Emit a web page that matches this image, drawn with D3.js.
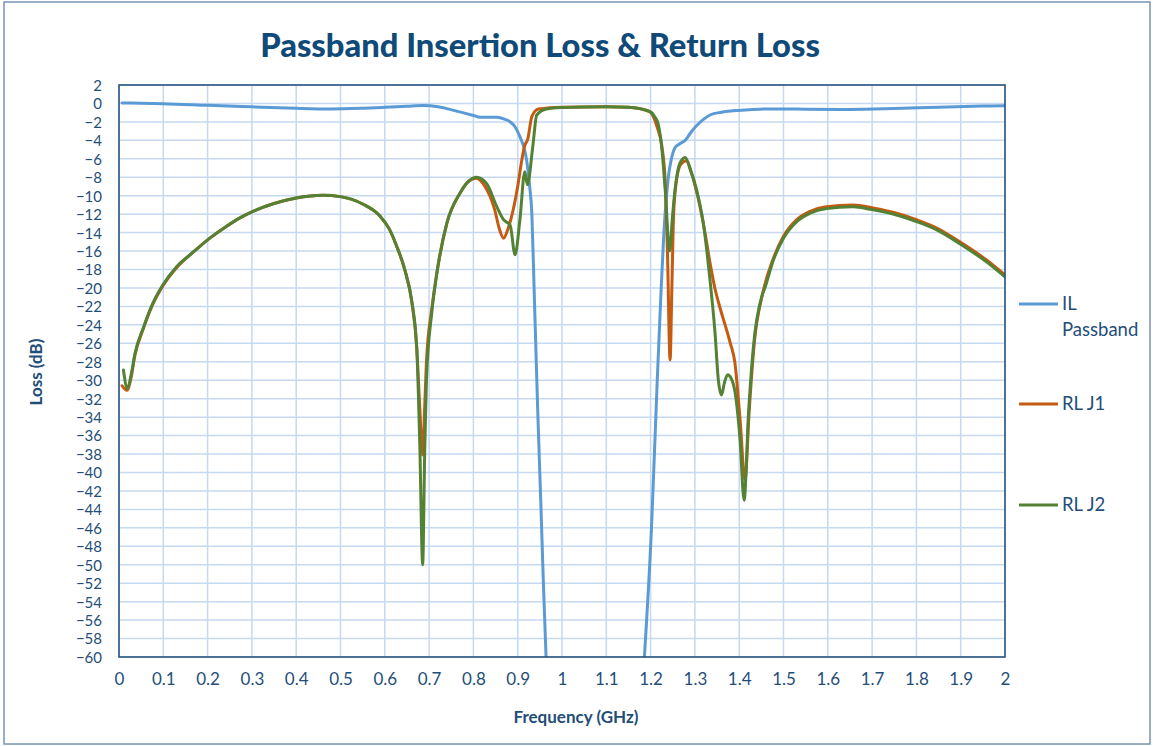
<!DOCTYPE html>
<html>
<head>
<meta charset="utf-8">
<script src="https://cdn.jsdelivr.net/npm/d3@7/dist/d3.min.js"></script>
<style>
  html, body { margin: 0; padding: 0; background: #ffffff; }
  svg { display: block; font-family: Lato, "Open Sans", sans-serif; }
</style>
</head>
<body>
<svg id="chart" width="1153" height="746"></svg>
<script>
// ---------------- DATA ----------------
const seriesNames = ["IL\nPassband", "RL J1", "RL J2"];
const xTicks = [0, 0.1, 0.2, 0.3, 0.4, 0.5, 0.6, 0.7, 0.8, 0.9, 1, 1.1, 1.2, 1.3, 1.4, 1.5, 1.6, 1.7, 1.8, 1.9, 2];
const yTicks = d3.range(2, -61, -2);

// IL Passband (null = below -60 dB, off chart)
const ilFreq = [0.007, 0.05, 0.1, 0.2, 0.3, 0.4, 0.48, 0.55, 0.6, 0.65, 0.687, 0.72, 0.76, 0.8, 0.815, 0.853, 0.87, 0.883, 0.895, 0.905, 0.913, 0.92, 0.927, 0.932, 0.937, 0.945, 0.952, 0.958, 0.964,
  1.07,
  1.186, 1.202, 1.215, 1.223, 1.23, 1.236, 1.24, 1.247, 1.255, 1.265, 1.278, 1.29, 1.304, 1.32, 1.334, 1.36, 1.386, 1.43, 1.46, 1.55, 1.65, 1.75, 1.85, 1.95, 2.0];
const ilLoss = [0.05, 0.02, -0.02, -0.2, -0.37, -0.53, -0.6, -0.52, -0.42, -0.3, -0.22, -0.35, -0.8, -1.3, -1.5, -1.5, -1.7, -2.0, -2.6, -3.6, -4.6, -6.1, -9, -12, -20, -33, -43, -52, -60,
  null,
  -60, -46, -30, -21, -14, -10, -8, -6, -4.8, -4.4, -4.0, -3.2, -2.4, -1.7, -1.25, -0.95, -0.8, -0.65, -0.6, -0.62, -0.65, -0.55, -0.4, -0.28, -0.25];

// RL J1
const rl1Freq = [0.007, 0.018, 0.027, 0.036, 0.055, 0.077, 0.1, 0.13, 0.168, 0.205, 0.243, 0.273, 0.3, 0.35, 0.4, 0.46, 0.5, 0.55, 0.589, 0.61, 0.627, 0.645, 0.661, 0.672, 0.679, 0.685, 0.69, 0.694, 0.706, 0.717, 0.74, 0.77, 0.79, 0.807, 0.825, 0.837, 0.848, 0.858, 0.868, 0.878, 0.89, 0.9, 0.908, 0.915, 0.923, 0.932, 0.947, 1.0, 1.1, 1.15, 1.195, 1.207, 1.215, 1.225, 1.233, 1.238, 1.244, 1.248, 1.252, 1.258, 1.268, 1.281, 1.292, 1.304, 1.319, 1.335, 1.345, 1.357, 1.37, 1.38, 1.39, 1.402, 1.413, 1.423, 1.434, 1.453, 1.477, 1.5, 1.53, 1.56, 1.597, 1.657, 1.699, 1.763, 1.8, 1.846, 1.898, 1.959, 2.0];
const rl1Loss = [-30.6, -31.1, -29.8, -27.3, -24.4, -21.7, -19.7, -17.8, -16.1, -14.6, -13.3, -12.4, -11.75, -10.85, -10.25, -9.95, -10.1, -10.9, -12.2, -13.6, -15.5, -18, -21.5, -26.4, -33, -38.1, -33, -28, -22.3, -18.5, -13, -9.7, -8.4, -8.1, -8.9, -10.0, -11.5, -13.5, -14.6, -13.6, -11.5, -9, -6.5, -4.7, -3.8, -1.4, -0.6, -0.4, -0.35, -0.4, -0.8, -1.5, -2.6, -4.5, -8.5, -16, -27.8, -20, -12, -8.5, -6.6, -6.2, -7.5, -9.6, -13.0, -17.5, -20.0, -22.2, -24.3, -26.0, -28.0, -34.3, -40.8, -33, -26, -20.6, -16.8, -14.4, -12.6, -11.7, -11.2, -11.0, -11.3, -12.0, -12.6, -13.5, -15.0, -17.0, -18.6];

// RL J2
const rl2Freq = [0.01, 0.019, 0.027, 0.036, 0.055, 0.077, 0.1, 0.13, 0.168, 0.205, 0.243, 0.273, 0.3, 0.35, 0.4, 0.46, 0.5, 0.55, 0.589, 0.61, 0.627, 0.645, 0.661, 0.672, 0.679, 0.6855, 0.69, 0.694, 0.706, 0.717, 0.74, 0.77, 0.79, 0.807, 0.83, 0.853, 0.868, 0.883, 0.894, 0.905, 0.916, 0.922, 0.934, 0.943, 0.965, 1.0, 1.1, 1.15, 1.199, 1.21, 1.217, 1.225, 1.233, 1.243, 1.249, 1.255, 1.266, 1.278, 1.29, 1.304, 1.319, 1.334, 1.345, 1.353, 1.36, 1.367, 1.374, 1.382, 1.39, 1.402, 1.411, 1.421, 1.432, 1.451, 1.458, 1.477, 1.5, 1.53, 1.56, 1.597, 1.657, 1.699, 1.763, 1.8, 1.846, 1.898, 1.959, 2.0];
const rl2Loss = [-28.9, -30.9, -29.5, -27.1, -24.3, -21.6, -19.6, -17.7, -16.1, -14.6, -13.3, -12.4, -11.75, -10.85, -10.25, -9.95, -10.1, -10.9, -12.2, -13.6, -15.5, -18, -21.5, -26.4, -37, -50, -38, -30, -22.7, -18.6, -13, -9.7, -8.4, -8.0, -8.7, -11.2, -12.6, -13.2, -16.4, -12.6, -7.4, -8.8, -4.7, -1.25, -0.6, -0.45, -0.35, -0.4, -0.9, -1.5, -2.2, -4.7, -9.4, -16, -12.5, -9.4, -6.5, -5.85, -7.2, -9.4, -13, -19.1, -24.6, -30, -31.6, -30.2, -29.4, -29.8, -31.1, -36.5, -43, -33.6, -26.4, -20.9, -20, -17, -14.6, -12.8, -11.9, -11.4, -11.2, -11.5, -12.2, -12.8, -13.7, -15.2, -17.2, -18.8];

const colors = ["#5b9bd5", "#c55a11", "#548235"];

// ---------------- LAYOUT ----------------
const svg = d3.select("#chart");
const plot = { left: 119, top: 85, right: 1005, bottom: 657 };
const textColor = "#1f4e79";

svg.append("rect").attr("x", 4).attr("y", 2).attr("width", 1146).attr("height", 742)
  .attr("fill", "#fff").attr("stroke", "#7894b3").attr("stroke-width", 1.5);

const x = d3.scaleLinear().domain([0, 2]).range([plot.left, plot.right]);
const y = d3.scaleLinear().domain([-60, 2]).range([plot.bottom, plot.top]);

// gridlines
const grid = svg.append("g").attr("stroke", "#c6d9f0").attr("stroke-width", 1.5);
grid.selectAll("line.h").data(yTicks).join("line")
  .attr("x1", plot.left).attr("x2", plot.right)
  .attr("y1", d => y(d)).attr("y2", d => y(d));
grid.selectAll("line.v").data(xTicks).join("line")
  .attr("y1", plot.top).attr("y2", plot.bottom)
  .attr("x1", d => x(d)).attr("x2", d => x(d));

// axes (labels only; no tick marks)
const yAxis = d3.axisLeft(y).tickValues(yTicks).tickSize(0).tickPadding(17).tickFormat(d3.format("d"));
const gy = svg.append("g").attr("transform", `translate(${plot.left},0)`).call(yAxis);
const xAxis = d3.axisBottom(x).tickValues(xTicks).tickSize(0).tickPadding(16).tickFormat(d => String(d));
const gx = svg.append("g").attr("transform", `translate(0,${plot.bottom})`).call(xAxis);
[gx, gy].forEach(g => {
  g.select(".domain").remove();
  g.selectAll("text").attr("fill", textColor).style("font-family", "Lato, sans-serif");
});
gx.selectAll("text").style("font-size", "17px").attr("dy", "0.71em");
gy.selectAll("text").style("font-size", "15px").attr("dy", "0.36em");

// clip
svg.append("clipPath").attr("id", "clip").append("rect")
  .attr("x", plot.left).attr("y", plot.top).attr("width", plot.right - plot.left).attr("height", plot.bottom - plot.top);

const line = d3.line()
  .defined(d => d[1] !== null)
  .x(d => x(d[0])).y(d => y(d[1]))
  .curve(d3.curveMonotoneX);

const series = [
  d3.zip(ilFreq, ilLoss),
  d3.zip(rl1Freq, rl1Loss),
  d3.zip(rl2Freq, rl2Loss)
];

const lines = svg.append("g").attr("clip-path", "url(#clip)");
series.forEach((s, i) => {
  lines.append("path").datum(s).attr("d", line)
    .attr("fill", "none").attr("stroke", colors[i]).attr("stroke-width", 3)
    .attr("stroke-linejoin", "round").attr("stroke-linecap", "round");
});

// plot border
svg.append("rect").attr("x", plot.left).attr("y", plot.top)
  .attr("width", plot.right - plot.left).attr("height", plot.bottom - plot.top)
  .attr("fill", "none").attr("stroke", "#1f4e79").attr("stroke-width", 1.5);

// title
const title = svg.append("text").attr("x", 540).attr("y", 57).attr("text-anchor", "middle")
  .attr("fill", "#0f4a78").style("font-weight", "900").style("font-size", "29px")
  .text("Passband Insertion Loss & Return Loss");
const tl = title.node().getComputedTextLength();
title.style("font-size", (29 * 560 / tl) + "px");

// axis titles
svg.append("text").attr("x", 576).attr("y", 723).attr("text-anchor", "middle")
  .attr("fill", textColor).style("font-weight", "bold").style("font-size", "17px")
  .text("Frequency (GHz)");
svg.append("text").attr("transform", "translate(42,372) rotate(-90)").attr("text-anchor", "middle")
  .attr("fill", textColor).style("font-weight", "bold").style("font-size", "17px")
  .text("Loss (dB)");

// legend
const legendY = [304, 404, 505];
seriesNames.forEach((name, i) => {
  const g = svg.append("g");
  g.append("line").attr("x1", 1019).attr("x2", 1058).attr("y1", legendY[i]).attr("y2", legendY[i])
    .attr("stroke", colors[i]).attr("stroke-width", 3);
  const t = g.append("text").attr("x", 1062).attr("y", legendY[i] + 6)
    .attr("fill", textColor).style("font-size", "18.5px");
  name.split("\n").forEach((part, k) => {
    t.append("tspan").attr("x", 1062).attr("dy", k === 0 ? 0 : 26).text(part);
  });
});
</script>
</body>
</html>
